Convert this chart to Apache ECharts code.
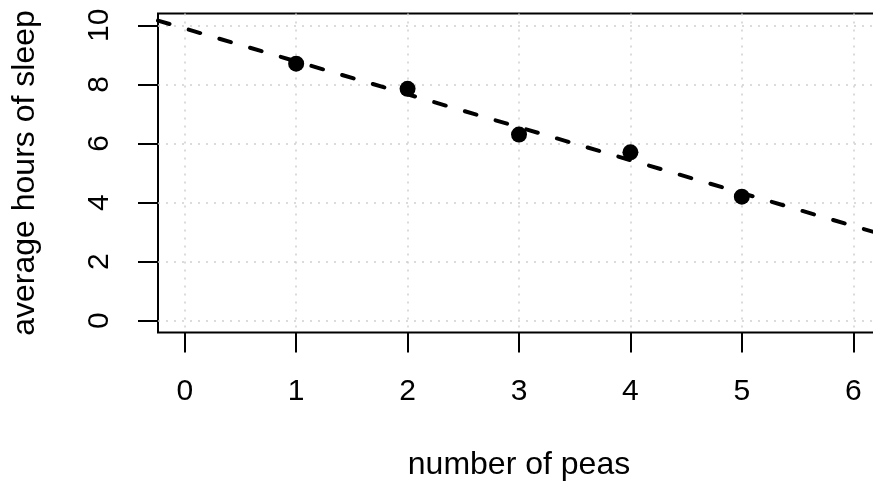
<!DOCTYPE html>
<html>
<head>
<meta charset="utf-8">
<script src="https://cdn.jsdelivr.net/npm/echarts@6/dist/echarts.min.js"></script>
<style>
  html, body { margin: 0; padding: 0; background: #fff; }
  #chart { width: 873px; height: 482px; }
</style>
</head>
<body>
<div id="chart"></div>
<script>
// peas eaten vs. average hours of sleep
const peas = [1, 2, 3, 4, 5];
const sleepHours = [8.7, 7.85, 6.3, 5.7, 4.2];
// fitted line, read at the two plot edges
const fitX = [-0.24, 6.24];
const fitY = [10.16, 2.94];
const xTicks = [0, 1, 2, 3, 4, 5, 6];
const yTicks = [0, 2, 4, 6, 8, 10];

const chart = echarts.init(document.getElementById('chart'));
const font = 'Liberation Sans, Arial, sans-serif';

const option = {
  animation: false,
  grid: {
    left: 158, top: 13.5, right: -7, bottom: 149.5,
    containLabel: false, outerBoundsMode: 'none',
    show: true, borderColor: '#000', borderWidth: 2
  },
  xAxis: {
    type: 'value', min: -0.24, max: 6.24,
    name: 'number of peas', nameLocation: 'middle', nameGap: 117,
    nameTextStyle: { fontFamily: font, fontSize: 32, color: '#000' },
    axisLine: { show: false, onZero: false },
    axisTick: { show: true, length: 20, customValues: xTicks, lineStyle: { color: '#000', width: 2 } },
    axisLabel: { customValues: xTicks, margin: 44, fontFamily: font, fontSize: 30, color: '#000' },
    splitLine: { show: true, lineStyle: { color: '#cfcfcf', width: 1.5, type: [2, 6] } }
  },
  yAxis: {
    type: 'value', min: -0.4, max: 10.4,
    name: 'average hours of sleep', nameLocation: 'middle', nameGap: 117,
    nameTextStyle: { fontFamily: font, fontSize: 32, color: '#000' },
    axisLine: { show: false, onZero: false },
    axisTick: { show: true, length: 20, customValues: yTicks, lineStyle: { color: '#000', width: 2 } },
    axisLabel: { customValues: yTicks, rotate: 90, margin: 43, fontFamily: font, fontSize: 30, color: '#000' },
    splitLine: { show: true, lineStyle: { color: '#cfcfcf', width: 1.5, type: [2, 6] } }
  },
  series: [
    {
      type: 'scatter',
      data: peas.map((p, i) => [p, sleepHours[i]]),
      symbol: 'circle', symbolSize: 16,
      itemStyle: { color: '#000', opacity: 1 }
    },
    {
      type: 'line',
      data: fitX.map((x, i) => [x, fitY[i]]),
      showSymbol: false, clip: true,
      lineStyle: { color: '#000', width: 4, type: [12, 20], cap: 'round' }
    }
  ]
};

chart.setOption(option);
</script>
</body>
</html>
